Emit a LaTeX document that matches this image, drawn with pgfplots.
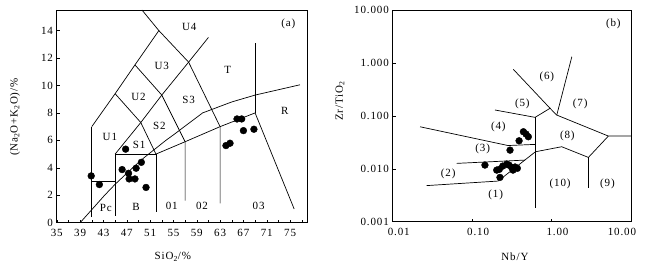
\documentclass[border=0pt]{standalone}
\usepackage{fontspec}
\setmainfont{Liberation Serif}[LetterSpace=8]
\usepackage{pgfplots}
\pgfplotsset{compat=1.18}
\begin{document}
\fontsize{11}{13}\selectfont
\begin{tikzpicture}
\useasboundingbox (0,0) rectangle (665pt,271pt);
\pgfplotsset{
  common/.style={
    scale only axis, anchor=south west,
    tick pos=left, tick align=inside,
    major tick length=3pt, minor tick length=3pt,
    axis line style={line width=0.8pt},
    every tick/.style={black, line width=0.5pt},
    /pgf/number format/assume math mode=true,
    ticklabel style={font=\fontsize{11}{13}\selectfont},
    label style={font=\fontsize{11}{13}\selectfont},
  },
  bline/.style={black, line width=0.7pt, no marks},
  dots/.style={only marks, mark=*, mark size=3.4pt, black},
}
% ---------------- (a) TAS ----------------
\begin{axis}[common, at={(56.8pt,48.3pt)}, width=250.2pt, height=212.7pt,
  xmin=35, xmax=77.9, ymin=0, ymax=15.5,
  xtick={35,39,...,75}, minor xtick={37,41,...,77},
  ytick={0,2,...,14},
  xticklabel style={yshift=-3pt},
  xlabel={SiO\textsubscript{2}/\%},
  ylabel={(Na\textsubscript{2}O+K\textsubscript{2}O)/\%},
  xlabel style={at={(axis description cs:0.464,0)}, anchor=center, yshift=-34pt},
  ylabel style={at={(axis description cs:-0.167,0.497)}, anchor=center},
]
\addplot[bline] coordinates {(41,0.4) (41,7)};
\addplot[bline] coordinates {(41,3) (45,3)};
\addplot[bline] coordinates {(45,0.5) (45,5) (52,5) (52,0.8)};
\addplot[bline] coordinates {(41,7) (45,9.4) (48.4,11.5) (52.5,14) (49.6,15.5)};
\addplot[bline] coordinates {(45,9.4) (49.4,7.3) (52,5)};
\addplot[bline] coordinates {(48.4,11.5) (53,9.3) (57,5.9) (57,1.6)};
\addplot[bline] coordinates {(52.5,14) (57.6,11.7) (63,7) (63,1.4)};
\addplot[bline] coordinates {(45,5) (49.4,7.3) (53,9.3) (57.6,11.7) (61,13.5)};
\addplot[bline] coordinates {(52,5) (57,5.9) (63,7) (69,8) (75.7,1.0)};
\addplot[bline] coordinates {(69,8) (69,13.1)};
\addplot[bline] coordinates {(39,0) (43.2,2) (45,2.8) (48,4) (50,4.75) (53.7,6) (55,6.4) (60,8) (65,8.8) (69,9.3) (76.7,10.05)};
\addplot[dots] coordinates {
(40.9,3.41) (42.3,2.78) (46.8,5.36) (46.2,3.87) (47.3,3.6) (47.4,3.19)
(48.4,3.19) (48.6,3.97) (49.5,4.4) (50.3,2.57)
(64.0,5.62) (64.7,5.79) (65.9,7.56) (66.7,7.56) (67.0,6.71) (68.8,6.81)};
\node at (axis cs:57.7,14.25) {U4};
\node at (axis cs:53.0,11.4) {U3};
\node at (axis cs:64.3,11.1) {T};
\node at (axis cs:49.0,9.2) {U2};
\node at (axis cs:57.6,8.95) {S3};
\node at (axis cs:74.1,8.17) {R};
\node at (axis cs:52.6,7.05) {S2};
\node at (axis cs:44.1,6.27) {U1};
\node at (axis cs:49.1,5.67) {S1};
\node at (axis cs:43.4,1.05) {Pc};
\node at (axis cs:48.6,1.12) {B};
\node at (axis cs:54.7,1.24) {01};
\node at (axis cs:59.9,1.24) {02};
\node at (axis cs:69.6,1.24) {03};
\node at (axis cs:74.7,14.5) {(a)};
\end{axis}
% ---------------- (b) Zr/TiO2 - Nb/Y ----------------
\begin{axis}[common, at={(392.7pt,49.3pt)}, width=238.3pt, height=211.7pt,
  xmode=log, ymode=log,
  xmin=0.01, xmax=10, ymin=0.001, ymax=10,
  xminorticks=false, yminorticks=false,
  xtick={0.01,0.1,1,10}, xticklabels={0.01,0.10,1.00,{\hspace*{-30pt}10.00}},
  xticklabel style={xshift=6pt, yshift=-3pt},
  ytick={0.001,0.01,0.1,1,10}, yticklabels={0.001,0.010,0.100,1.000,10.000},
  xlabel={Nb/Y}, ylabel={Zr/TiO\textsubscript{2}},
  xlabel style={at={(axis description cs:0.513,0)}, anchor=center, yshift=-35pt},
  ylabel style={at={(axis description cs:-0.221,0.57)}, anchor=center},
]
\addplot[bline] coordinates {(0.0267,0.00481) (0.212,0.00586) (0.62,0.0207)};
\addplot[bline] coordinates {(0.064,0.01265) (0.463,0.0146)};
\addplot[bline] coordinates {(0.0221,0.0622) (0.283,0.0275) (0.62,0.0289)};
\addplot[bline] coordinates {(0.194,0.129) (0.62,0.0937) (0.957,0.139) (1.163,0.1035)};
\addplot[bline] coordinates {(0.62,0.0937) (0.62,0.00178)};
\addplot[bline] coordinates {(0.330,0.757) (0.957,0.139)};
\addplot[bline] coordinates {(1.163,0.1035) (1.80,1.31)};
\addplot[bline] coordinates {(1.163,0.1035) (5.19,0.0415) (10,0.0415)};
\addplot[bline] coordinates {(5.19,0.0415) (2.91,0.0164) (1.34,0.0261) (0.62,0.0209)};
\addplot[bline] coordinates {(2.91,0.0164) (2.91,0.00426)};
\addplot[dots] coordinates {
(0.145,0.01175) (0.204,0.00944) (0.220,0.00975) (0.243,0.01125) (0.273,0.01227)
(0.315,0.0106) (0.371,0.0102) (0.224,0.00687) (0.300,0.0225) (0.390,0.0338)
(0.442,0.0501) (0.477,0.0453) (0.510,0.0403) (0.327,0.00944) (0.292,0.0117) (0.347,0.0108)};
\node at (axis cs:0.198,0.00318) {(1)};
\node at (axis cs:0.050,0.0079) {(2)};
\node at (axis cs:0.136,0.0233) {(3)};
\node at (axis cs:0.214,0.0622) {(4)};
\node at (axis cs:0.429,0.172) {(5)};
\node at (axis cs:0.871,0.534) {(6)};
\node at (axis cs:2.29,0.172) {(7)};
\node at (axis cs:1.58,0.0415) {(8)};
\node at (axis cs:5.05,0.00528) {(9)};
\node at (axis cs:1.28,0.00528) {(10)};
\node at (axis cs:6.0,5.43) {(b)};
\end{axis}
\end{tikzpicture}
\end{document}
